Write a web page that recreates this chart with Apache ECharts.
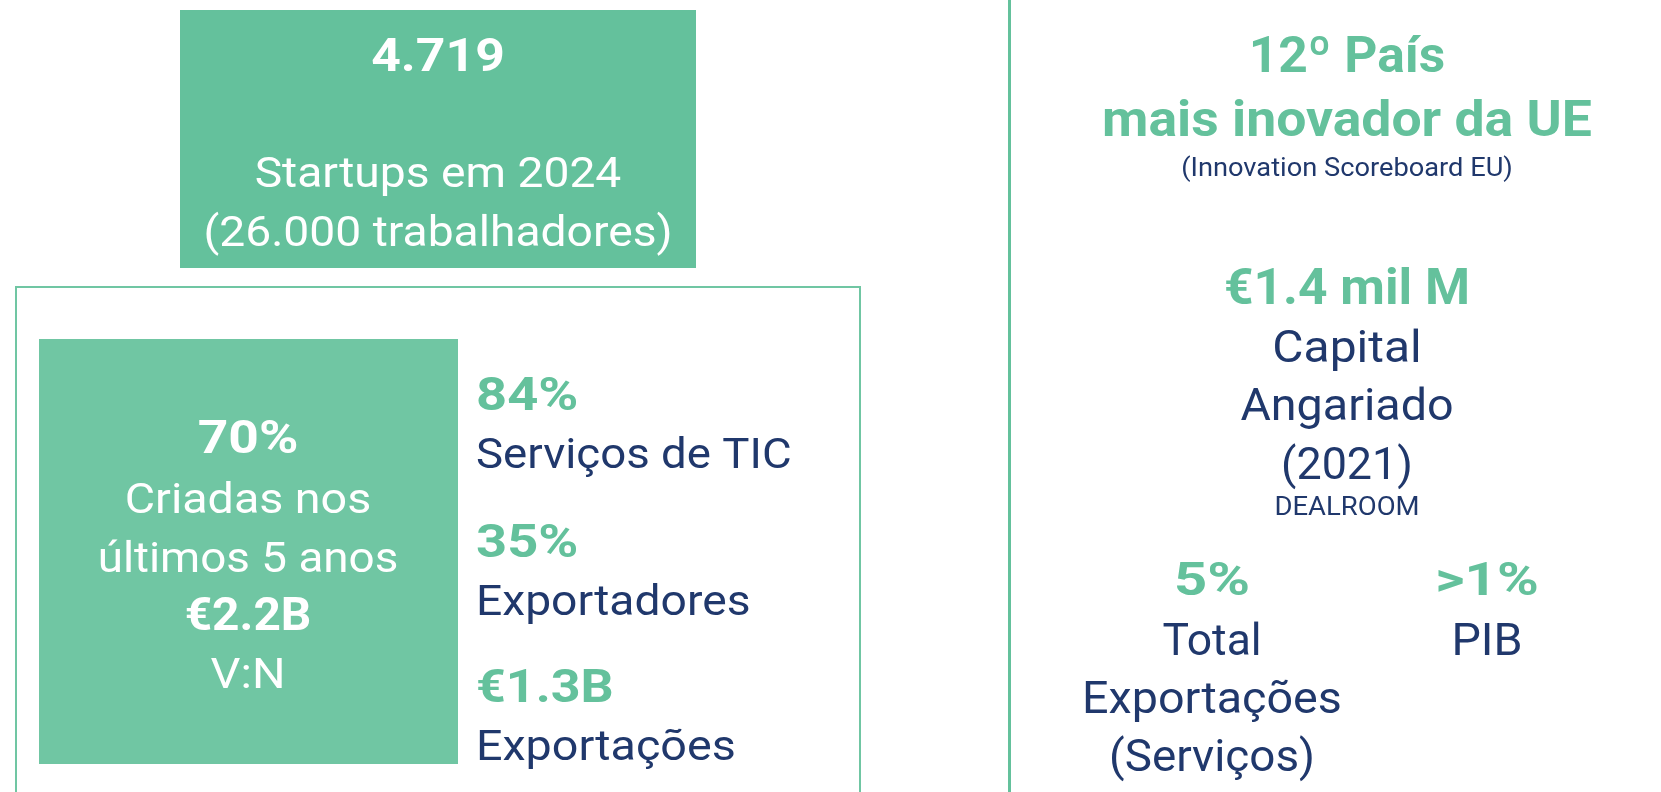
<!DOCTYPE html>
<html>
<head>
<meta charset="utf-8">
<script src="https://cdn.jsdelivr.net/npm/echarts@6/dist/echarts.min.js"></script>
<style>
html,body{margin:0;padding:0;background:#fff;}
#c{width:1661px;height:792px;}
</style>
</head>
<body>
<div id="c"></div>
<script>
// ---- content ----
const topValue = ['4.719'];
const topLabel = ['Startups em 2024', '(26.000 trabalhadores)'];
const boxLines = ['70%', 'Criadas nos', 'últimos 5 anos', '€2.2B', 'V:N'];
const boxBold = [true, false, false, true, false];
const sideValues = ['84%', '35%', '€1.3B'];
const sideLabels = ['Serviços de TIC', 'Exportadores', 'Exportações'];
const rankTitle = ['12º País', 'mais inovador da UE'];
const rankSource = ['(Innovation Scoreboard EU)'];
const capitalValue = ['€1.4 mil M'];
const capitalLabel = ['Capital', 'Angariado', '(2021)'];
const capitalSource = ['DEALROOM'];
const shareValues = ['5%', '>1%'];
const shareLabels = [['Total', 'Exportações', '(Serviços)'], ['PIB']];

// ---- style / layout ----
const GREEN = '#64C19C';
const GREEN2 = '#70C6A3';
const NAVY = '#20386C';
const FONT = 'Roboto, "Noto Sans", sans-serif';
const DY = 4.5;

function txt(x, y, s, size, sx, opt) {
  return {
    type: 'text', x: x, y: y + DY, scaleX: sx, silent: true,
    style: Object.assign({
      text: s, fontFamily: FONT, fontSize: size, fill: NAVY,
      textAlign: 'center', textVerticalAlign: 'middle'
    }, opt || {})
  };
}

const els = [];
// top box
els.push({type: 'rect', shape: {x: 180, y: 10, width: 516, height: 258}, style: {fill: GREEN}});
els.push(txt(438, 55, topValue[0], 47, 1.1, {fill: '#fff', fontWeight: 'bold'}));
topLabel.forEach((s, i) => els.push(txt(438, 172 + i * 59, s, 42, 1.1, {fill: '#fff'})));

// outer frame
els.push({type: 'rect', shape: {x: 16, y: 287, width: 844, height: 540}, style: {fill: 'none', stroke: GREEN2, lineWidth: 2}});
// inner box
els.push({type: 'rect', shape: {x: 39, y: 339, width: 419, height: 425}, style: {fill: GREEN2}});
const boxY = [437, 498, 557, 614, 673];
const boxSX = [1.16, 1.11, 1.09, 1.04, 1.12];
boxLines.forEach((s, i) => els.push(txt(248, boxY[i], s, boxBold[i] ? 46 : 42, boxSX[i],
  {fill: '#fff', fontWeight: boxBold[i] ? 'bold' : 'normal'})));

// side stats
const sideY = [394, 541, 686];
const sideValSX = [1.18, 1.18, 1.13];
const sideLabSX = [1.086, 1.10, 1.11];
sideValues.forEach((s, i) => {
  els.push(txt(476, sideY[i], s, 46, sideValSX[i], {fill: GREEN, fontWeight: 'bold', textAlign: 'left'}));
  els.push(txt(476, sideY[i] + 59, sideLabels[i], 42, sideLabSX[i], {textAlign: 'left'}));
});

// divider
els.push({type: 'rect', shape: {x: 1008, y: 0, width: 3, height: 792}, style: {fill: GREEN}});

// right panel
const RX = 1347;
const rankSX = [1.03, 1.07];
rankTitle.forEach((s, i) => els.push(txt(RX, 55 + i * 64, s, 50, rankSX[i], {fill: GREEN, fontWeight: 'bold'})));
els.push(txt(RX, 165, rankSource[0], 25, 1.09));
els.push(txt(RX, 287, capitalValue[0], 50, 1.03, {fill: GREEN, fontWeight: 'bold'}));
const capSX = [1.09, 1.06, 1.02];
capitalLabel.forEach((s, i) => els.push(txt(RX, 346 + i * 58.5, s, 44, capSX[i])));
els.push(txt(RX, 504, capitalSource[0], 25, 1.1));

const shareX = [1212, 1487];
const shareValSX = [1.26, 1.23];
const shareLabSX = [[1.01, 1.06, 1.04], [1.06]];
shareValues.forEach((s, i) => {
  els.push(txt(shareX[i], 579, s, 46, shareValSX[i], {fill: GREEN, fontWeight: 'bold'}));
  shareLabels[i].forEach((l, j) => els.push(txt(shareX[i], 639 + j * 58, l, 44, shareLabSX[i][j])));
});

const chart = echarts.init(document.getElementById('c'), null, {renderer: 'canvas'});
chart.setOption({
  backgroundColor: '#ffffff',
  animation: false,
  graphic: {elements: els}
});
</script>
</body>
</html>
